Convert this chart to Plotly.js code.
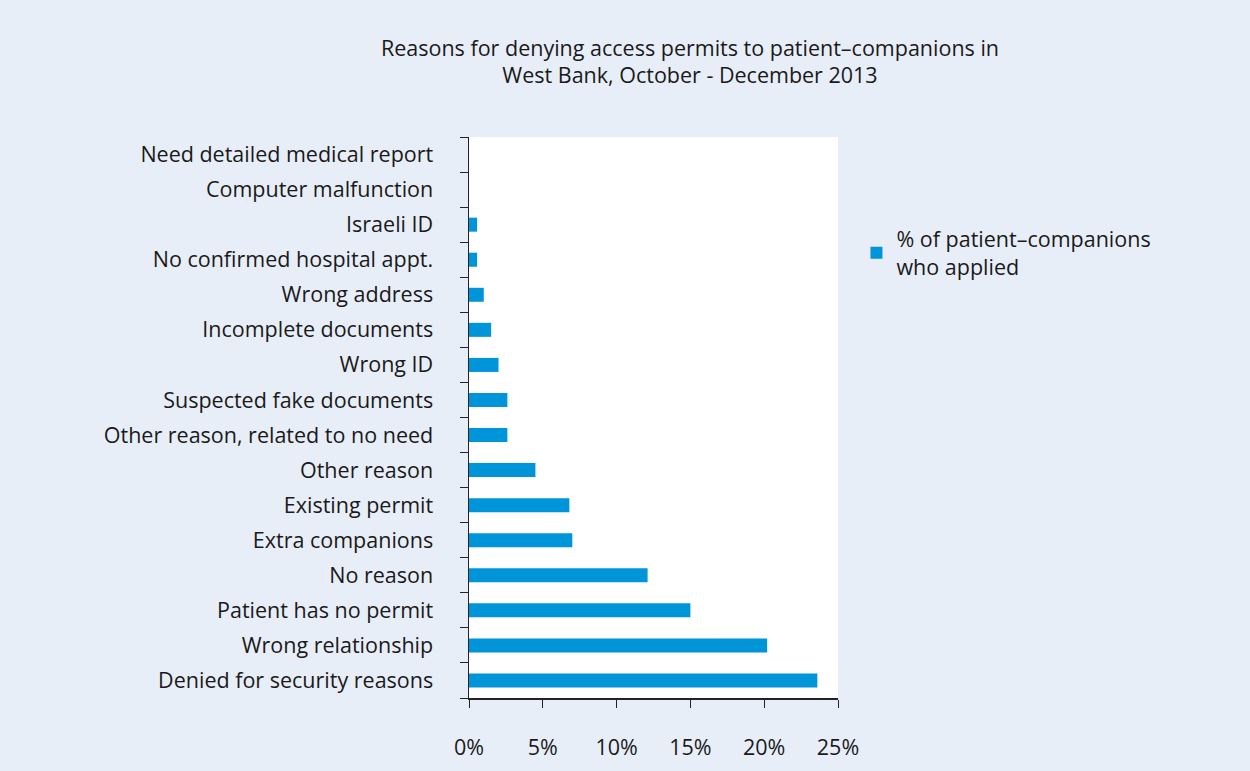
<!DOCTYPE html>
<html><head><meta charset="utf-8">
<script src="https://cdn.plot.ly/plotly-3.0.1.min.js"></script>
<style>body{margin:0;}#c{width:1250px;height:771px;}</style>
</head><body><div id="c"></div>
<script>
const categories = ["Denied for security reasons","Wrong relationship","Patient has no permit","No reason","Extra companions","Existing permit","Other reason","Other reason, related to no need","Suspected fake documents","Wrong ID","Incomplete documents","Wrong address","No confirmed hospital appt.","Israeli ID","Computer malfunction","Need detailed medical report"];
const values = [23.6, 20.2, 15.0, 12.1, 7.0, 6.8, 4.5, 2.6, 2.6, 2.0, 1.5, 1.0, 0.55, 0.55, 0, 0];
const seriesName = "% of patient\u2013companions<br>who applied";
const xTickVals = [0,5,10,15,20,25];
const xTickText = ["0%","5%","10%","15%","20%","25%"];

const font = "Open Sans, Noto Sans, sans-serif";
const fs = 21.5;
Plotly.newPlot('c', [{
  type: 'bar', orientation: 'h', y: categories, x: values, name: seriesName,
  marker: {color: '#0095D8'}, showlegend: true
}], {
  width: 1250, height: 771,
  paper_bgcolor: '#E8EEF8', plot_bgcolor: '#FFFFFF',
  margin: {l: 469, r: 412, t: 137, b: 73},
  font: {family: font, size: fs, color: '#1a1a1a'},
  title: {text: "Reasons for denying access permits to patient\u2013companions in<br>West Bank, October - December 2013", x: 0.552, xanchor: 'center', y: 0.928, yanchor: 'top', font: {family: font, size: 21.5, color: '#1a1a1a'}},
  bargap: 0.6,
  xaxis: {range: [0, 25], tickvals: xTickVals, ticktext: xTickText, showgrid: false, zeroline: false,
    showline: true, linecolor: '#222', linewidth: 1.5, ticks: 'outside', ticklen: 8, tickcolor: '#222',
    ticklabelstandoff: 22, tickfont: {size: fs}, fixedrange: true},
  yaxis: {type: 'category', showgrid: false, showline: true, linecolor: '#222', linewidth: 1.5,
    ticks: 'outside', tickson: 'boundaries', ticklen: 8, tickcolor: '#222', ticklabelstandoff: 30,
    tickfont: {size: fs}, range: [-0.5, 15.5]},
  legend: {x: 1.05, y: 0.855, xanchor: 'left', yanchor: 'top', bgcolor: 'rgba(0,0,0,0)', font: {size: fs}, itemwidth: 30}
}, {displayModeBar: false, staticPlot: true});
</script></body></html>
